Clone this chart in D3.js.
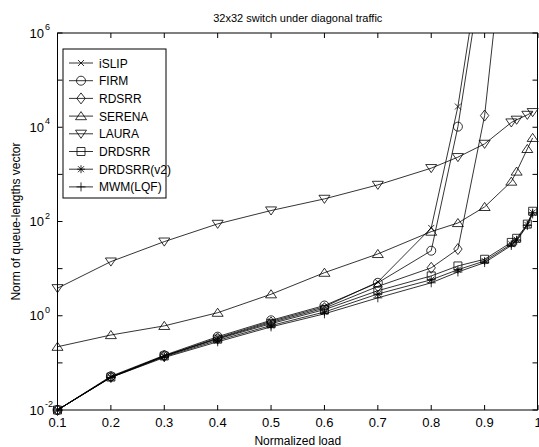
<!DOCTYPE html>
<html>
<head>
<meta charset="utf-8">
<script src="https://cdn.jsdelivr.net/npm/d3@7"></script>
<style>
  body { margin:0; background:#fff; }
  text { font-family: "Liberation Sans", Arial, sans-serif; fill:#000; }
</style>
</head>
<body>
<div id="chart"></div>
<script>
// normalized load (x)
var loads = [0.1, 0.2, 0.3, 0.4, 0.5, 0.6, 0.7, 0.8, 0.85, 0.9, 0.95, 0.96, 0.98, 0.99]

// norm of queue-lengths vector, one list per scheduler
var islip  = [0.01, 0.050, 0.14, 0.34, 0.76, 1.55, 5.2, 73, 27500, 1.2e8]
var firm   = [0.01, 0.052, 0.145, 0.36, 0.80, 1.65, 5.0, 24, 10300, 4.5e7]
var rdsrr  = [0.01, 0.050, 0.14, 0.33, 0.72, 1.45, 4.2, 10.4, 26, 17700, 3e9]
var serena = [0.22, 0.39, 0.61, 1.16, 2.86, 8.2, 20.5, 61, 93, 204, 703, 1150, 3470, 5960]
var laura  = [3.84, 14.1, 37.4, 89, 171, 302, 598, 1355, 2320, 4440, 12600, 14400, 18300, 20900]
var drdsrr = [0.01, 0.050, 0.14, 0.32, 0.68, 1.35, 3.4, 7.0, 11.4, 15.8, 36, 44, 88, 165]
var drdsrr2 = [0.01, 0.049, 0.135, 0.30, 0.62, 1.2, 2.9, 5.8, 9.5, 14.5, 33, 41, 85, 155]
var mwm    = [0.01, 0.049, 0.13, 0.28, 0.58, 1.1, 2.4, 5.0, 8.5, 13.4, 31, 39, 82, 145]

var names   = ['iSLIP', 'FIRM', 'RDSRR', 'SERENA', 'LAURA', 'DRDSRR', 'DRDSRR(v2)', 'MWM(LQF)']
var markers = ['x', 'o', 'd', '^', 'v', 's', '*', '+']

var xTicks = [0.1, 0.2, 0.3, 0.4, 0.5, 0.6, 0.7, 0.8, 0.9, 1]
var yTicks = [-2, -1, 0, 1, 2, 3, 4, 5, 6]   // decades
var yLabels = [-2, 0, 2, 4, 6]

var allSeries = [islip, firm, rdsrr, serena, laura, drdsrr, drdsrr2, mwm]

var W = 539, H = 447
var m = { top:33, right:1, bottom:37, left:57.5 }

var svg = d3.select('#chart').append('svg')
    .attr('width', W)
    .attr('height', H)

var x = d3.scaleLinear().domain([0.1, 1]).range([m.left, W - m.right])
var y = d3.scaleLog().domain([1e-2, 1e6]).range([H - m.bottom, m.top])

var x0 = x.range()[0], x1 = x.range()[1], y0 = y.range()[0], y1 = y.range()[1]

svg.append('clipPath').attr('id', 'plot')
  .append('rect')
    .attr('x', x0).attr('y', y1)
    .attr('width', x1 - x0).attr('height', y0 - y1)

// marker path per symbol, centred on 0,0
function symbolPath(s) {
    switch (s) {
    case 'x': return 'M-3,-3L3,3M-3,3L3,-3'
    case 'o': return 'M4.5,0A4.5,4.5 0 1,1 -4.5,0A4.5,4.5 0 1,1 4.5,0Z'
    case 'd': return 'M0,-5.5L4.2,0L0,5.5L-4.2,0Z'
    case '^': return 'M0,-4.5L5.5,3.6L-5.5,3.6Z'
    case 'v': return 'M0,4.5L5.5,-3.6L-5.5,-3.6Z'
    case 's': return 'M-4,-4L4,-4L4,4L-4,4Z'
    case '*': return 'M-4,0L4,0M0,-4L0,4M-3,-3L3,3M-3,3L3,-3'
    case '+': return 'M-4.5,0L4.5,0M0,-4.5L0,4.5'
    }
}

var line = d3.line()
    .defined(d => d[1] != null)
    .x(d => x(d[0]))
    .y(d => y(d[1]))

var g = svg.append('g')

allSeries.forEach((vals, i) => {
    var pts = vals.map((v, j) => [loads[j], v])
    g.append('path')
        .attr('clip-path', 'url(#plot)')
        .attr('d', line(pts))
        .attr('fill', 'none')
        .attr('stroke', '#000')
        .attr('stroke-width', 0.8)
    g.selectAll(null)
        .data(pts.filter(p => p[1] != null && p[1] >= 1e-2 && p[1] <= 1e6))
      .enter().append('path')
        .attr('transform', p => 'translate(' + x(p[0]) + ',' + y(p[1]) + ')')
        .attr('d', symbolPath(markers[i]))
        .attr('fill', 'none')
        .attr('stroke', '#000')
        .attr('stroke-width', 0.8)
})

// axes box
svg.append('rect')
    .attr('x', x0).attr('y', y1)
    .attr('width', x1 - x0 - 0.5).attr('height', y0 - y1)
    .attr('fill', 'none')
    .attr('stroke', '#000')
    .attr('stroke-width', 1)

// inward ticks on all four sides
var tk = 5
xTicks.forEach(t => {
    svg.append('path').attr('d', 'M' + x(t) + ',' + y0 + 'v' + (-tk) + 'M' + x(t) + ',' + y1 + 'v' + tk)
        .attr('stroke', '#000')
})
yTicks.forEach(e => {
    var yy = y(Math.pow(10, e))
    svg.append('path').attr('d', 'M' + x0 + ',' + yy + 'h' + tk + 'M' + (x1 - 0.5) + ',' + yy + 'h' + (-tk))
        .attr('stroke', '#000')
})

// tick labels
svg.selectAll('.xl')
    .data(xTicks)
  .enter().append('text')
    .attr('x', d => x(d))
    .attr('y', 427)
    .attr('text-anchor', 'middle')
    .style('font-size', '13px')
    .text(d => d)

var yl = svg.selectAll('.yl')
    .data(yLabels)
  .enter().append('text')
    .attr('x', 44)
    .attr('y', d => y(Math.pow(10, d)) + 4.5)
    .attr('text-anchor', 'end')
    .style('font-size', '13px')
    .text('10')
svg.selectAll('.ye')
    .data(yLabels)
  .enter().append('text')
    .attr('x', 45)
    .attr('y', d => y(Math.pow(10, d)) - 3)
    .style('font-size', '9px')
    .text(d => d < 0 ? '-' + Math.abs(d) : d)

// titles
svg.append('text')
    .attr('x', (x0 + x1) / 2).attr('y', 22)
    .attr('text-anchor', 'middle')
    .style('font-size', '11px')
    .text('32x32 switch under diagonal traffic')
svg.append('text')
    .attr('x', (x0 + x1) / 2).attr('y', 445)
    .attr('text-anchor', 'middle')
    .style('font-size', '12px')
    .text('Normalized load')
svg.append('text')
    .attr('transform', 'translate(20,' + ((y0 + y1) / 2) + ') rotate(-90)')
    .attr('text-anchor', 'middle')
    .style('font-size', '12px')
    .text('Norm of queue-lengths vector')

// legend
var lg = svg.append('g').attr('transform', 'translate(63,49)')
lg.append('rect')
    .attr('width', 103).attr('height', 149)
    .attr('fill', '#fff')
    .attr('stroke', '#000')
names.forEach((n, i) => {
    var ly = 14 + i * 17.7
    lg.append('path').attr('d', 'M6,' + ly + 'H30').attr('stroke', '#000').attr('stroke-width', 0.8)
    lg.append('path')
        .attr('transform', 'translate(18,' + ly + ')')
        .attr('d', symbolPath(markers[i]))
        .attr('fill', 'none')
        .attr('stroke', '#000')
        .attr('stroke-width', 0.8)
    lg.append('text')
        .attr('x', 36).attr('y', ly + 4.5)
        .style('font-size', '12px')
        .text(n)
})
</script>
</body>
</html>
